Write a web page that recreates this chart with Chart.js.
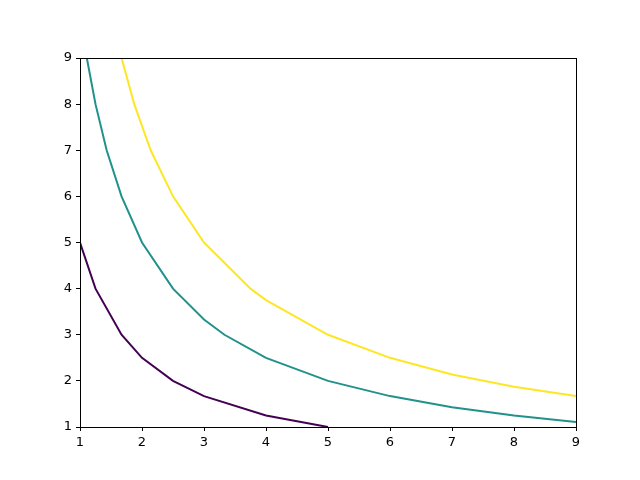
<!DOCTYPE html>
<html>
<head>
<meta charset="utf-8">
<script src="https://cdn.jsdelivr.net/npm/chart.js@4"></script>
<style>
  html, body { margin:0; padding:0; background:#fff; }
  #wrap { width:640px; height:480px; }
</style>
</head>
<body>
<div id="wrap"><canvas id="chart" width="640" height="480"></canvas></div>
<script>
// contour lines (x, y pairs)
const lowX  = [1, 1.25, 1.67, 2, 2.5, 3, 4, 5];
const lowY  = [5, 4, 3, 2.5, 2, 1.67, 1.25, 1];

const midX  = [1.11, 1.25, 1.43, 1.67, 2, 2.5, 3, 3.33, 4, 5, 6, 7, 8, 9];
const midY  = [9, 8, 7, 6, 5, 4, 3.33, 3, 2.5, 2, 1.67, 1.43, 1.25, 1.11];

const highX = [1.67, 1.875, 2.14, 2.5, 3, 3.75, 4, 5, 6, 7, 8, 9];
const highY = [9, 8, 7, 6, 5, 4, 3.75, 3, 2.5, 2.14, 1.875, 1.67];

const ticks = [1, 2, 3, 4, 5, 6, 7, 8, 9];

function pts(xs, ys){ return xs.map((x,i)=>({x:x, y:ys[i]})); }

const frame = {
  id: 'frame',
  afterDraw(chart){
    const a = chart.chartArea, c = chart.ctx;
    c.save();
    c.strokeStyle = '#000';
    c.lineWidth = 1;
    c.strokeRect(Math.round(a.left)+0.5, Math.round(a.top)+0.5,
                 Math.round(a.right-a.left), Math.round(a.bottom-a.top));
    c.restore();
  }
};

const line = (data, color) => ({
  data: data, borderColor: color, backgroundColor: color,
  showLine: true, pointRadius: 0, borderWidth: 2, tension: 0
});

const tickOpts = { color:'#000', font:{family:'DejaVu Sans', size:13}, padding:4 };

new Chart(document.getElementById('chart').getContext('2d'), {
  type: 'scatter',
  data: {
    datasets: [
      line(pts(lowX, lowY), '#440154'),
      line(pts(midX, midY), '#21918c'),
      line(pts(highX, highY), '#fde725')
    ]
  },
  options: {
    responsive:false, animation:false,
    layout:{ padding:{ top:58, right:64, left:0, bottom:0 } },
    plugins:{ legend:{display:false}, tooltip:{enabled:false} },
    scales:{
      x:{
        type:'linear', min:1, max:9,
        afterBuildTicks: s => { s.ticks = ticks.map(v=>({value:v})); },
        afterFit: s => { s.height = 53; },
        grid:{ drawOnChartArea:false, tickLength:4, color:'#000' },
        border:{ color:'#000' },
        ticks: tickOpts
      },
      y:{
        type:'linear', min:1, max:9,
        afterBuildTicks: s => { s.ticks = ticks.map(v=>({value:v})); },
        afterFit: s => { s.width = 80; },
        grid:{ drawOnChartArea:false, tickLength:4, color:'#000' },
        border:{ color:'#000' },
        ticks: tickOpts
      }
    }
  },
  plugins:[frame]
});
</script>
</body>
</html>
